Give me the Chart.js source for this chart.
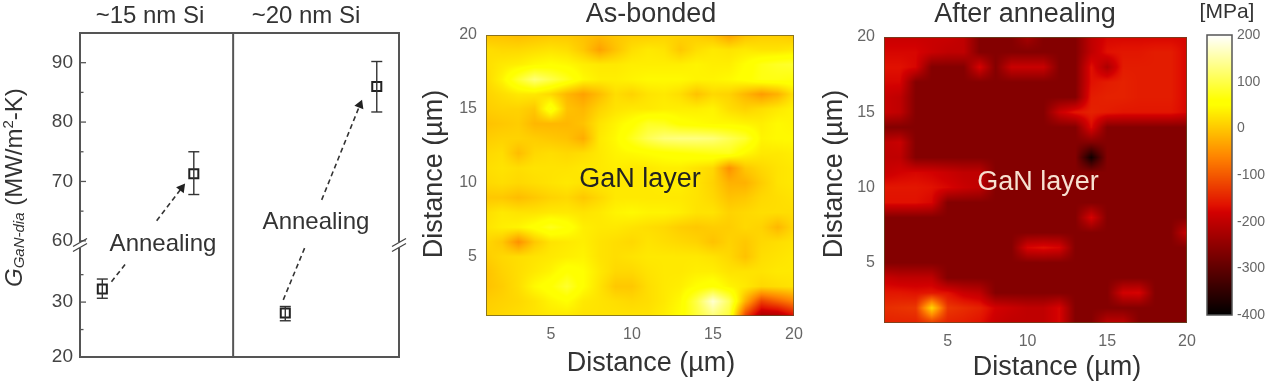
<!DOCTYPE html>
<html>
<head>
<meta charset="utf-8">
<title>GaN stress maps</title>
<script src="https://cdn.jsdelivr.net/npm/chart.js@4"></script>
<style>
    html, body { margin: 0; padding: 0; background: #fff; overflow: hidden; }
    canvas { position: absolute; left: 0; top: 0; filter: blur(0.45px); }
</style>
</head>
<body>
<canvas id="conductanceChart" width="1268" height="386"></canvas>
<canvas id="bondedChart" width="1268" height="386"></canvas>
<canvas id="annealedChart" width="1268" height="386"></canvas>
<canvas id="colorbarChart" width="1268" height="386"></canvas>
<script>
const FONT = '"Liberation Sans", Arial, sans-serif';

// Left panel: thermal boundary conductance
const samplePositions = [0, 1, 2, 3];
const conductance = [32.4, 71.3, 28, 86];
const conductanceLow = [30.7, 67.8, 26.6, 81.7];
const conductanceHigh = [34.2, 75, 29.2, 90.2];
const upperTicks = [60, 65, 70, 75, 80, 85, 90];
const lowerTicks = [20, 25, 30, 35];
const labelledTicks = [20, 30, 60, 70, 80, 90];
const panelTitles = ['~15 nm Si', '~20 nm Si'];

// Stress maps in MPa, one row per y from 20 down to 1, x from 1 to 20
const distanceTicks = [5, 10, 15, 20];
const colorbarTicks = [-400, -300, -200, -100, 0, 100, 200];

const bondedStress = [
    [-5, -5, -10, -5, 0, 0, -5, -10, 0, 5, 5, 10, 10, 5, -5, -35, -5, 5, 5, 0],
    [20, 15, 15, 20, 25, 20, 0, -35, -5, 20, 30, 25, 0, 20, 30, 25, 30, 25, 25, 30],
    [20, 30, 35, 45, 50, 45, 35, 30, 30, 35, 35, 35, 35, 40, 35, 35, 50, 70, 80, 85],
    [15, 40, 85, 125, 100, 75, 45, 35, 35, 40, 45, 45, 45, 40, 40, 45, 55, 70, 70, 65],
    [10, 20, 30, 30, 15, -15, -35, -10, 20, 10, 25, 30, 20, -5, 15, 10, -15, -40, -20, 25],
    [5, 10, 10, 0, 70, -5, -15, 10, 25, 30, 30, 35, 35, 35, 40, 20, 10, 20, 30, 40],
    [-5, 0, 5, -15, -15, -15, -5, 25, 40, 55, 80, 75, 55, 50, 45, 45, 40, 35, 45, 40],
    [5, 10, 10, 5, 0, -5, -25, 30, 45, 75, 105, 125, 130, 130, 125, 105, 85, 40, 45, 45],
    [15, 20, -10, 15, 20, 15, 20, 30, 40, 45, 50, 55, 60, 65, 70, 75, 45, 30, 30, 35],
    [20, 25, 20, 25, 25, 25, 30, 30, 35, 30, 30, 35, 35, 25, 15, -50, 0, 15, 25, 30],
    [15, 20, 15, 20, 25, 30, 25, 30, 30, 30, 30, 35, 35, 25, 10, -20, -20, 5, 25, 30],
    [0, 0, -10, 0, 10, 15, 0, 15, 30, 30, 30, 30, 30, 25, 15, -5, 0, 15, 20, 25],
    [20, 30, 25, 25, 30, 30, 25, 30, 40, 45, 40, 40, 35, 25, 25, 10, 15, 20, 20, 20],
    [25, 35, 40, 55, 75, 60, 35, 30, 30, 25, 20, 15, 5, 0, 5, 5, 15, 10, -15, 15],
    [15, 0, -50, 0, 25, 30, 35, 25, 20, 15, 25, 20, 15, 10, -5, 10, 0, 15, 20, 25],
    [5, 15, 20, 25, 30, 35, 40, 25, 20, 25, 30, 30, 30, 30, 25, 15, -5, 20, 25, 30],
    [-5, 10, 20, 30, 40, 60, 50, 30, 15, 15, 25, 30, 30, 35, 35, 25, 25, 25, 30, 30],
    [-5, 5, 20, 45, 60, 85, 50, 25, 0, 0, 20, 30, 35, 50, 60, 40, 30, 15, 20, 25],
    [5, 10, 15, 25, 40, 50, 30, 25, 20, 15, 20, 30, 45, 100, 175, 110, -20, -120, -90, -60],
    [10, 15, 20, 25, 30, 30, 25, 25, 25, 25, 25, 35, 50, 90, 125, 90, -120, -225, -220, -170]
];

const annealedStress = [
    [-190, -190, -190, -190, -190, -200, -262, -262, -262, -225, -262, -262, -262, -200, -175, -175, -175, -175, -175, -175],
    [-175, -175, -175, -190, -200, -200, -262, -262, -262, -262, -262, -262, -262, -200, -165, -160, -160, -155, -155, -175],
    [-165, -165, -175, -262, -262, -262, -175, -262, -190, -190, -190, -262, -262, -165, -220, -155, -155, -155, -155, -175],
    [-175, -175, -262, -262, -262, -262, -262, -262, -262, -262, -262, -262, -262, -165, -155, -150, -155, -155, -155, -175],
    [-190, -200, -262, -262, -262, -262, -262, -262, -262, -262, -262, -262, -262, -155, -150, -150, -155, -155, -155, -175],
    [-190, -200, -262, -262, -262, -262, -262, -262, -262, -262, -262, -190, -160, -150, -155, -160, -160, -160, -160, -175],
    [-262, -262, -262, -262, -262, -262, -262, -262, -262, -262, -262, -262, -262, -170, -262, -262, -262, -262, -262, -262],
    [-200, -190, -262, -262, -262, -262, -262, -262, -262, -262, -262, -262, -262, -262, -262, -262, -262, -262, -262, -262],
    [-200, -200, -262, -262, -262, -262, -262, -262, -262, -262, -262, -262, -262, -385, -262, -262, -262, -262, -262, -262],
    [-190, -180, -175, -180, -190, -200, -200, -262, -262, -262, -262, -262, -262, -262, -262, -262, -262, -262, -262, -262],
    [-160, -160, -160, -165, -175, -190, -200, -262, -262, -262, -262, -262, -262, -262, -262, -262, -262, -262, -262, -262],
    [-165, -165, -165, -175, -262, -262, -262, -262, -262, -262, -262, -262, -262, -262, -262, -262, -262, -262, -262, -262],
    [-262, -262, -262, -262, -262, -262, -262, -262, -262, -262, -262, -262, -262, -175, -262, -262, -262, -262, -262, -262],
    [-262, -262, -262, -262, -262, -262, -262, -262, -262, -262, -262, -262, -262, -262, -262, -262, -262, -262, -262, -190],
    [-262, -262, -262, -262, -262, -262, -262, -262, -262, -175, -165, -175, -262, -262, -262, -262, -262, -262, -262, -262],
    [-262, -262, -262, -262, -262, -262, -262, -262, -262, -262, -262, -262, -262, -262, -262, -262, -262, -262, -262, -262],
    [-190, -200, -200, -200, -262, -262, -262, -262, -262, -262, -262, -262, -262, -262, -262, -262, -262, -262, -262, -262],
    [-160, -160, -165, -160, -165, -190, -200, -262, -262, -262, -262, -262, -262, -262, -262, -180, -175, -262, -262, -262],
    [-140, -135, -130, 15, -130, -140, -150, -180, -190, -200, -200, -175, -262, -262, -262, -262, -262, -262, -262, -262],
    [-150, -150, -150, -130, -150, -155, -165, -190, -200, -200, -200, -175, -262, -262, -200, -200, -262, -262, -262, -262]
];

// Colour map: black -> red -> orange -> yellow -> white
function stressColor(value) {
    const clamp = v => Math.max(0, Math.min(1, v));
    const red = value < -165 ? 0.88 * (value + 400) / 235 : 0.88 + 0.12 * clamp((value + 165) / 105);
    return [
        Math.round(255 * clamp(red)),
        Math.round(255 * clamp((value + 180) / 230)),
        Math.round(255 * clamp((value - 60) / 140))
    ];
}

function stressCells(rows) {
    const cells = [];
    rows.forEach((row, r) => {
        row.forEach((v, c) => cells.push({ x: c + 1, y: 20 - r, v: v }));
    });
    return cells;
}

// Writes a canvas-coordinate list of captions (titles, axis titles)
const captionPlugin = {
    id: 'captions',
    afterDraw(chart, args, opts) {
        const ctx = chart.ctx;
        (opts.items || []).forEach(item => {
            ctx.save();
            ctx.translate(item.x, item.y);
            ctx.rotate((item.rotate || 0) * Math.PI / 180);
            ctx.font = `${item.size}px ${FONT}`;
            ctx.fillStyle = item.color || '#333';
            ctx.textAlign = 'center';
            ctx.textBaseline = 'middle';
            ctx.fillText(item.text, 0, 0);
            ctx.restore();
        });
    }
};

// Shades the plot area from the dataset cells through the chart scales
const heatPlugin = {
    id: 'heatShade',
    beforeDatasetsDraw(chart) {
        const cells = chart.data.datasets[0].data;
        const lookup = {};
        cells.forEach(c => { lookup[c.x + '_' + c.y] = c.v; });
        const area = chart.chartArea;
        const xs = chart.scales.x, ys = chart.scales.y;
        const left = Math.round(area.left), top = Math.round(area.top);
        const w = Math.round(area.right) - left, h = Math.round(area.bottom) - top;
        const off = document.createElement('canvas');
        off.width = w;
        off.height = h;
        const octx = off.getContext('2d');
        const image = octx.createImageData(w, h);
        for (let py = 0; py < h; py++) {
            const vy = Math.max(1, Math.min(20, ys.getValueForPixel(top + py + 0.5)));
            const y0 = Math.min(19, Math.floor(vy));
            const fy = vy - y0;
            for (let px = 0; px < w; px++) {
                const vx = Math.max(1, Math.min(20, xs.getValueForPixel(left + px + 0.5)));
                const x0 = Math.min(19, Math.floor(vx));
                const fx = vx - x0;
                const value = lookup[x0 + '_' + y0] * (1 - fx) * (1 - fy) +
                    lookup[(x0 + 1) + '_' + y0] * fx * (1 - fy) +
                    lookup[x0 + '_' + (y0 + 1)] * (1 - fx) * fy +
                    lookup[(x0 + 1) + '_' + (y0 + 1)] * fx * fy;
                const color = stressColor(value);
                const i = (py * w + px) * 4;
                image.data[i] = color[0];
                image.data[i + 1] = color[1];
                image.data[i + 2] = color[2];
                image.data[i + 3] = 255;
            }
        }
        octx.putImageData(image, 0, 0);
        chart.ctx.drawImage(off, left, top);
        chart.ctx.strokeStyle = 'rgba(90, 80, 40, 0.7)';
        chart.ctx.lineWidth = 1;
        chart.ctx.strokeRect(left + 0.5, top + 0.5, w - 1, h - 1);
    }
};

// Vertical gradient of the colour bar, read back from its y scale
const colorbarPlugin = {
    id: 'colorbarShade',
    beforeDatasetsDraw(chart) {
        const ctx = chart.ctx;
        const area = chart.chartArea;
        const ys = chart.scales.y;
        for (let py = Math.round(area.top); py < Math.round(area.bottom); py++) {
            const c = stressColor(ys.getValueForPixel(py + 0.5));
            ctx.fillStyle = `rgb(${c[0]}, ${c[1]}, ${c[2]})`;
            ctx.fillRect(area.left, py, area.right - area.left, 1);
        }
        ctx.strokeStyle = '#555';
        ctx.lineWidth = 1.5;
        ctx.strokeRect(area.left, area.top, area.right - area.left, area.bottom - area.top);
    }
};

// Frame, panel divider, inward ticks, axis break and italic y label of the left panel
const conductanceFrame = {
    id: 'conductanceFrame',
    afterDatasetsDraw(chart) {
        const ctx = chart.ctx;
        const area = chart.chartArea;
        const xs = chart.scales.x;
        const dividerX = xs.getPixelForValue(1.43);
        ctx.save();
        ctx.strokeStyle = '#555';
        ctx.lineWidth = 2;
        ctx.strokeRect(area.left, area.top, area.right - area.left, area.bottom - area.top);
        ctx.beginPath();
        ctx.moveTo(dividerX, area.top);
        ctx.lineTo(dividerX, area.bottom);
        ctx.stroke();

        ctx.lineWidth = 1.3;
        ['yTop', 'yLow'].forEach(id => {
            const scale = chart.scales[id];
            scale.ticks.forEach(tick => {
                const py = scale.getPixelForValue(tick.value);
                const len = labelledTicks.includes(tick.value) ? 6 : 3.5;
                ctx.beginPath();
                ctx.moveTo(area.left, py);
                ctx.lineTo(area.left + len, py);
                ctx.stroke();
            });
        });

        const breakY = chart.scales.yLow.top;
        [area.left, area.right].forEach(x => {
            ctx.strokeStyle = '#fff';
            ctx.lineWidth = 3;
            ctx.beginPath();
            ctx.moveTo(x, breakY - 3);
            ctx.lineTo(x, breakY + 3);
            ctx.stroke();
            ctx.strokeStyle = '#444';
            ctx.lineWidth = 1.3;
            [-2.5, 2.5].forEach(dy => {
                ctx.beginPath();
                ctx.moveTo(x - 7, breakY + dy + 4);
                ctx.lineTo(x + 7, breakY + dy - 4);
                ctx.stroke();
            });
        });

        // G subscript label, laid along the rotated baseline
        ctx.translate(15, 287);
        ctx.rotate(-Math.PI / 2);
        ctx.fillStyle = '#333';
        ctx.textBaseline = 'middle';
        ctx.textAlign = 'left';
        let cursor = 0;
        const parts = [
            ['G', `italic 24px ${FONT}`, 0],
            ['GaN-dia', `italic 15px ${FONT}`, 5],
            [' (MW/m', `24px ${FONT}`, 0],
            ['2', `15px ${FONT}`, -6],
            ['-K)', `24px ${FONT}`, 0]
        ];
        parts.forEach(part => {
            ctx.font = part[1];
            ctx.fillText(part[0], cursor, part[2]);
            cursor += ctx.measureText(part[0]).width;
        });
        ctx.restore();
    }
};

function buildConductanceDatasets() {
    const axisFor = v => (v < 50 ? 'yLow' : 'yTop');
    const datasets = [];
    samplePositions.forEach((x, i) => {
        datasets.push({
            data: [{ x: x, y: conductanceLow[i] }, { x: x, y: conductanceHigh[i] }],
            yAxisID: axisFor(conductance[i]),
            showLine: true,
            borderColor: '#333',
            borderWidth: 1.4,
            pointStyle: 'line',
            pointRadius: 5.5,
            pointBorderColor: '#333',
            pointBorderWidth: 1.4
        });
    });
    samplePositions.forEach((x, i) => {
        datasets.push({
            data: [{ x: x, y: conductance[i] }],
            yAxisID: axisFor(conductance[i]),
            pointStyle: 'rect',
            pointRadius: 6.4,
            pointBackgroundColor: '#fff',
            pointBorderColor: '#222',
            pointBorderWidth: 2
        });
    });
    // Dashed annealing arrows, split around the text
    const arrows = [
        { axis: 'yLow', from: [0.10, 33.7], to: [0.26, 37.1], head: false },
        { axis: 'yTop', from: [0.594, 63.4], to: [0.867, 68.9], head: 38 },
        { axis: 'yLow', from: [1.978, 30.4], to: [2.22, 40.2], head: false },
        { axis: 'yTop', from: [2.398, 66.9], to: [2.816, 82.9], head: 22 }
    ];
    arrows.forEach(a => {
        datasets.push({
            data: [{ x: a.from[0], y: a.from[1] }, { x: a.to[0], y: a.to[1] }],
            yAxisID: a.axis,
            showLine: true,
            borderColor: '#333',
            borderWidth: 1.6,
            borderDash: [5, 3.5],
            pointStyle: 'triangle',
            pointRadius: [0, a.head === false ? 0 : 4],
            pointRotation: a.head || 0,
            pointBackgroundColor: '#222',
            pointBorderColor: '#222'
        });
    });
    return datasets;
}

function conductanceAxis(min, max, tickValues, stackWeight, weight) {
    return {
        position: 'left',
        stack: 'conductance',
        stackWeight: stackWeight,
        weight: weight,
        min: min,
        max: max,
        border: { display: false },
        grid: { display: false, drawTicks: false },
        afterBuildTicks: scale => {
            scale.ticks = tickValues.map(v => ({ value: v }));
        },
        afterFit: scale => {
            scale.width = 80;
        },
        ticks: {
            autoSkip: false,
            padding: 7,
            color: '#444',
            font: { family: FONT, size: 19 },
            callback: v => (labelledTicks.includes(v) ? String(v) : '')
        }
    };
}

new Chart(document.getElementById('conductanceChart'), {
    type: 'scatter',
    data: { datasets: buildConductanceDatasets() },
    plugins: [conductanceFrame, captionPlugin],
    options: {
        responsive: false,
        animation: false,
        layout: { padding: { left: 0, top: 33, right: 869, bottom: 29 } },
        scales: {
            x: { min: -0.244, max: 3.243, display: false },
            yTop: conductanceAxis(59.3, 95, upperTicks, 212, 2),
            yLow: conductanceAxis(20, 40.4, lowerTicks, 112, 1)
        },
        plugins: {
            legend: { display: false },
            tooltip: { enabled: false },
            captions: {
                items: [
                    { text: panelTitles[0], x: 150, y: 16, size: 24 },
                    { text: panelTitles[1], x: 306, y: 16, size: 24 },
                    { text: 'Annealing', x: 163, y: 244, size: 24 },
                    { text: 'Annealing', x: 316, y: 222, size: 24 }
                ]
            }
        }
    }
});

function mapAxis(size) {
    return {
        min: 1,
        max: 20,
        border: { display: false },
        grid: { display: false, drawTicks: false },
        afterBuildTicks: scale => {
            scale.ticks = distanceTicks.map(v => ({ value: v }));
        },
        afterFit: scale => {
            if (scale.isHorizontal()) {
                scale.height = size;
            } else {
                scale.width = size;
            }
        },
        ticks: {
            autoSkip: false,
            maxRotation: 0,
            padding: 9,
            color: '#666',
            font: { family: FONT, size: 16 }
        }
    };
}

new Chart(document.getElementById('bondedChart'), {
    type: 'scatter',
    data: { datasets: [{ data: stressCells(bondedStress), pointRadius: 0 }] },
    plugins: [heatPlugin, captionPlugin],
    options: {
        responsive: false,
        animation: false,
        layout: { padding: { left: 420, top: 35, right: 474, bottom: 0 } },
        scales: { x: mapAxis(70), y: mapAxis(66) },
        plugins: {
            legend: { display: false },
            tooltip: { enabled: false },
            captions: {
                items: [
                    { text: 'As-bonded', x: 651, y: 15, size: 27 },
                    { text: 'Distance (µm)', x: 651, y: 364, size: 27 },
                    { text: 'Distance (µm)', x: 435, y: 174, size: 27, rotate: -90 },
                    { text: 'GaN layer', x: 640, y: 180, size: 27, color: '#222' }
                ]
            }
        }
    }
});

new Chart(document.getElementById('annealedChart'), {
    type: 'scatter',
    data: { datasets: [{ data: stressCells(annealedStress), pointRadius: 0 }] },
    plugins: [heatPlugin, captionPlugin],
    options: {
        responsive: false,
        animation: false,
        layout: { padding: { left: 820, top: 37, right: 81, bottom: 0 } },
        scales: { x: mapAxis(63), y: mapAxis(64) },
        plugins: {
            legend: { display: false },
            tooltip: { enabled: false },
            captions: {
                items: [
                    { text: 'After annealing', x: 1025, y: 15, size: 27 },
                    { text: 'Distance (µm)', x: 1057, y: 368, size: 27 },
                    { text: 'Distance (µm)', x: 835, y: 174, size: 27, rotate: -90 },
                    { text: 'GaN layer', x: 1038, y: 183, size: 27, color: '#f7e0d0' }
                ]
            }
        }
    }
});

new Chart(document.getElementById('colorbarChart'), {
    type: 'scatter',
    data: { datasets: [{ data: [], pointRadius: 0 }] },
    plugins: [colorbarPlugin, captionPlugin],
    options: {
        responsive: false,
        animation: false,
        layout: { padding: { left: 1207, top: 35, right: 0, bottom: 71 } },
        scales: {
            x: { display: false },
            y: {
                position: 'right',
                min: -400,
                max: 200,
                border: { display: false },
                grid: { display: false, drawTicks: false },
                afterBuildTicks: scale => {
                    scale.ticks = colorbarTicks.map(v => ({ value: v }));
                },
                afterFit: scale => {
                    scale.width = 36;
                },
                ticks: {
                    autoSkip: false,
                    padding: 5,
                    color: '#666',
                    font: { family: FONT, size: 14 }
                }
            }
        },
        plugins: {
            legend: { display: false },
            tooltip: { enabled: false },
            captions: {
                items: [{ text: '[MPa]', x: 1227, y: 12, size: 21 }]
            }
        }
    }
});
</script>
</body>
</html>
